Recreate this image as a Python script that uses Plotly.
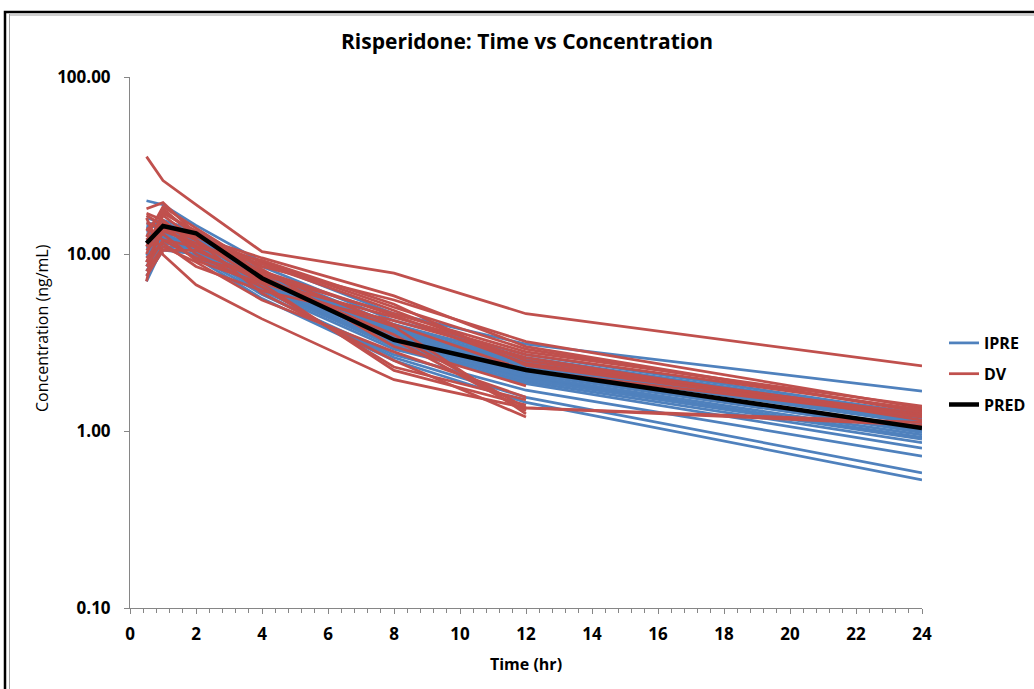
import plotly.graph_objects as go

# ---------------- data ----------------
times = [0.5, 1, 2, 4, 8, 12, 24]

ipre = [
    [20.0, 19.0, 14.5, 9.0, 4.6, 3.1, 1.68],
    [14.0, 15.5, 13.5, 8.5, 4.2, 2.7, 1.25],
    [12.5, 14.0, 12.5, 7.8, 3.8, 2.5, 1.20],
    [11.0, 13.5, 12.0, 7.5, 3.6, 2.4, 1.15],
    [9.5, 12.5, 11.5, 7.2, 3.5, 2.35, 1.12],
    [13.0, 13.0, 11.0, 6.8, 3.3, 2.2, 1.05],
    [8.0, 11.5, 11.0, 7.0, 3.4, 2.3, 1.10],
    [10.5, 12.0, 10.5, 6.5, 3.2, 2.1, 1.00],
    [7.0, 11.0, 10.8, 6.6, 3.0, 2.0, 0.92],
    [12.0, 12.8, 11.2, 6.7, 3.1, 2.05, 0.95],
    [9.0, 11.8, 10.2, 6.2, 2.9, 1.9, 0.86],
    [15.0, 14.5, 12.0, 7.0, 3.0, 1.85, 0.80],
    [10.0, 11.0, 9.8, 5.9, 2.7, 1.7, 0.72],
    [13.5, 13.0, 10.5, 6.0, 2.6, 1.55, 0.58],
    [11.5, 12.0, 9.5, 5.6, 2.5, 1.45, 0.53],
    [8.5, 12.2, 11.8, 7.6, 3.9, 2.6, 1.22],
    [16.0, 15.0, 13.0, 8.0, 4.0, 2.55, 1.18],
    [9.8, 13.0, 12.3, 7.4, 3.7, 2.45, 1.14],
    [12.0, 13.8, 12.5, 7.7, 3.75, 2.5, 1.10],
    [7.5, 10.5, 10.0, 6.3, 3.1, 2.15, 1.02],
    [10.8, 12.5, 10.8, 6.4, 3.0, 1.95, 0.90],
    [14.5, 14.0, 11.8, 7.1, 3.4, 2.2, 0.98],
]

dv = [
    [35.5, 26.0, 19.0, 10.3, 7.8, 4.6, 2.33],
    [16.0, 9.9, 6.7, 4.3, 1.95, 1.35, 1.12],
    [18.0, 19.5, 13.0, 8.5, 5.5, 3.2, 1.35],
    [7.0, 18.0, 12.5, 9.0, 5.0, 2.9, 1.30],
    [12.0, 15.0, 10.0, 6.5, 2.3, 1.5, None],
    [9.0, 13.5, 11.5, 8.0, 4.5, 2.4, 1.25],
    [14.0, 12.0, 9.5, 7.5, 3.3, 1.3, None],
    [10.0, 16.5, 12.0, 6.0, 2.5, 1.2, None],
    [8.0, 11.0, 9.0, 5.5, 2.8, 1.55, None],
    [15.0, 14.0, 12.5, 9.5, 5.8, 3.0, 1.28],
    [11.0, 17.0, 13.5, 7.8, 4.0, 2.2, 1.20],
    [9.5, 11.5, 8.5, 6.2, 4.2, 2.6, 1.15],
    [17.0, 15.5, 11.0, 8.8, 4.8, 2.5, 1.22],
    [7.5, 10.5, 10.5, 7.2, 3.5, 1.35, 1.08],
    [12.5, 18.5, 14.0, 8.2, 3.0, 1.8, None],
    [10.5, 13.0, 9.2, 6.8, 2.2, 1.4, None],
    [16.5, 14.5, 12.0, 7.0, 4.4, 2.7, 1.32],
    [8.5, 12.0, 11.0, 9.2, 5.2, 2.35, 1.20],
    [13.5, 17.5, 12.8, 7.6, 4.6, 2.8, 1.38],
    [9.0, 14.0, 10.8, 6.9, 3.9, 1.25, None],
]

pred = [11.5, 14.4, 13.1, 7.3, 3.27, 2.21, 1.04]

y_tickvals = [0.1, 1, 10, 100]
y_ticktext = ["0.10", "1.00", "10.00", "100.00"]

# ---------------- helpers ----------------
def flatten(rows):
    xs, ys = [], []
    for r in rows:
        for t, v in zip(times, r):
            if v is not None:
                xs.append(t)
                ys.append(v)
        xs.append(None)
        ys.append(None)
    return xs, ys

BLUE = "#4F81BD"
RED = "#C0504D"
FONT = "Open Sans"

fig = go.Figure()
xi, yi = flatten(ipre)
fig.add_trace(go.Scatter(x=xi, y=yi, mode="lines", name="IPRE", legendgroup="a",
                         line=dict(color=BLUE, width=2.75), connectgaps=False))
xd, yd = flatten(dv)
fig.add_trace(go.Scatter(x=xd, y=yd, mode="lines", name="DV", legendgroup="b",
                         line=dict(color=RED, width=2.75), connectgaps=False))
fig.add_trace(go.Scatter(x=times, y=pred, mode="lines", name="PRED", legendgroup="c",
                         line=dict(color="black", width=4.5)))

L, R, T, B = 130, 112, 77, 81
W, H = 1034, 689
pw, ph = W - L - R, H - T - B

def px(x):
    return (x - L) / pw

def py(y):
    return (H - B - y) / ph

shapes = [
    dict(type="rect", xref="paper", yref="paper", x0=px(5), x1=px(1045), y0=py(700), y1=py(12),
         line=dict(color="black", width=2.5), layer="below"),
    dict(type="line", xref="paper", yref="paper", x0=px(9.5), x1=px(9.5), y0=py(700), y1=py(14),
         line=dict(color="#A0A0A0", width=1), layer="below"),
    dict(type="line", xref="paper", yref="paper", x0=px(9), x1=px(1045), y0=py(15), y1=py(15),
         line=dict(color="#A0A0A0", width=1), layer="below"),
]

fig.update_layout(
    width=W, height=H,
    margin=dict(l=L, r=R, t=T, b=B, autoexpand=False),
    paper_bgcolor="white", plot_bgcolor="white",
    font=dict(family=FONT, color="black"),
    title=dict(text="<b>Risperidone: Time vs Concentration</b>", x=px(527), xref="paper",
               xanchor="center", y=1 - 42 / H, yanchor="middle",
               font=dict(size=21, family=FONT, color="black")),
    showlegend=True,
    legend=dict(xref="container", yref="container", x=944 / W, y=1 - 326 / H,
                xanchor="left", yanchor="top",
                font=dict(size=16, family=FONT, color="black", weight="bold"),
                traceorder="grouped", tracegroupgap=7, itemwidth=30,
                bgcolor="rgba(0,0,0,0)"),
    shapes=shapes,
    annotations=[
        dict(text="Concentration (ng/mL)", xref="paper", yref="paper", x=px(42), y=py(328),
             xanchor="center", yanchor="middle", textangle=-90, showarrow=False,
             font=dict(size=16, family=FONT, color="black")),
    ],
)

fig.update_xaxes(
    range=[0, 24], dtick=2, tick0=0, showgrid=False, zeroline=False,
    showline=True, linecolor="#868686", linewidth=1,
    ticks="outside", ticklen=5, tickcolor="#868686",
    minor=dict(dtick=0.4, ticks="outside", ticklen=4, tickcolor="#868686", showgrid=False),
    tickfont=dict(size=17, family=FONT, color="black", weight="bold"),
    ticklabelstandoff=6,
    title=dict(text="Time (hr)", standoff=14,
               font=dict(size=16, family=FONT, color="black", weight="bold")),
)
fig.update_yaxes(
    type="log", range=[-1, 2], tickvals=y_tickvals, ticktext=y_ticktext,
    showgrid=False, zeroline=False,
    showline=True, linecolor="#868686", linewidth=1,
    ticks="outside", ticklen=5, tickcolor="#868686",
    ticklabelstandoff=10,
    tickfont=dict(size=17, family=FONT, color="black", weight="bold"),
)

fig.write_html("out.html")
